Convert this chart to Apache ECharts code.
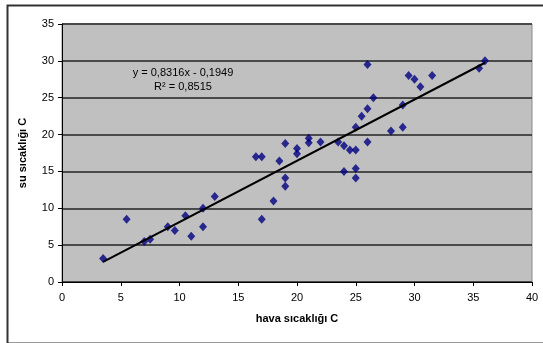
<!DOCTYPE html>
<html>
<head>
<meta charset="utf-8">
<script src="https://cdn.jsdelivr.net/npm/echarts@6/dist/echarts.min.js"></script>
<style>
html,body{margin:0;padding:0;background:#fff;}
#chart{width:543px;height:343px;}
</style>
</head>
<body>
<div id="chart"></div>
<script>
// air temperature (x) and water temperature (y)
const airTemp = [3.5, 5.5, 7, 7.5, 9, 9.6, 10.5, 11, 12, 12, 13, 16.5, 17, 17, 18, 18.5, 19, 19, 19, 20, 20, 21, 21, 22, 23.5, 24, 24, 24.5, 25, 25, 25, 25, 25.5, 26, 26, 26, 26.5, 28, 29, 29, 29.5, 30, 30.5, 31.5, 35.5, 36];
const waterTemp = [3.2, 8.5, 5.5, 5.8, 7.5, 7, 9, 6.2, 10, 7.5, 11.6, 17, 17, 8.5, 11, 16.4, 18.8, 14.1, 13, 18.1, 17.4, 19.5, 18.9, 19, 19, 18.5, 15, 17.9, 17.9, 21, 15.4, 14.1, 22.5, 23.5, 29.5, 19, 25, 20.5, 24, 21, 28, 27.5, 26.5, 28, 29, 30];
// linear trendline as shown on the chart: y = 0,8316x - 0,1949
const trendSlope = 0.8316;
const trendIntercept = -0.1949;
const trendX = [3.5, 36];
const xTicks = [0, 40, 5];
const yTicks = [0, 35, 5];
const equationText = 'y = 0,8316x - 0,1949';
const r2Text = 'R² = 0,8515';
const xName = 'hava sıcaklığı C';
const yName = 'su sıcaklığı C';

const points = airTemp.map((x, i) => [x, waterTemp[i]]);
const trend = trendX.map(x => [x, trendSlope * x + trendIntercept]);

const font = '"Liberation Sans", Arial, sans-serif';
const chart = echarts.init(document.getElementById('chart'));
chart.setOption({
  animation: false,
  backgroundColor: '#fff',
  grid: {
    left: 62, top: 24, width: 470, height: 258,
    show: true, backgroundColor: '#c0c0c0', borderColor: '#8a8a8a', borderWidth: 1
  },
  xAxis: {
    type: 'value', min: xTicks[0], max: xTicks[1], interval: xTicks[2],
    name: xName, nameLocation: 'middle', nameGap: 31,
    nameTextStyle: {fontFamily: font, fontSize: 11, fontWeight: 'bold', color: '#000'},
    axisLine: {show: true, lineStyle: {color: '#000', width: 1}},
    axisTick: {show: true, inside: false, length: 4, lineStyle: {color: '#000'}},
    axisLabel: {fontFamily: font, fontSize: 11, color: '#000', margin: 10},
    splitLine: {show: false}
  },
  yAxis: {
    type: 'value', min: yTicks[0], max: yTicks[1], interval: yTicks[2],
    name: yName, nameLocation: 'middle', nameGap: 34, nameRotate: 90,
    nameTextStyle: {fontFamily: font, fontSize: 11, fontWeight: 'bold', color: '#000'},
    axisLine: {show: true, lineStyle: {color: '#000', width: 1}},
    axisTick: {show: true, inside: false, length: 4, lineStyle: {color: '#000'}},
    axisLabel: {fontFamily: font, fontSize: 11, color: '#000', margin: 8},
    splitLine: {show: true, lineStyle: {color: '#4a4a4a', width: 2}}
  },
  series: [
    {
      type: 'scatter', data: points, symbol: 'diamond', symbolSize: [8, 9],
      itemStyle: {color: '#000080'}, z: 3
    },
    {
      type: 'line', data: trend, showSymbol: false, symbol: 'none',
      lineStyle: {color: '#000', width: 2}, z: 4
    }
  ],
  graphic: [
    {
      type: 'rect', left: 5, top: 3, z: -10, silent: true,
      shape: {width: 545, height: 338},
      style: {fill: 'none', stroke: '#333', lineWidth: 2}
    },
    {
      type: 'text', x: 183, y: 73, z: 10,
      style: {text: equationText, font: '11px ' + font, fill: '#000', align: 'center', verticalAlign: 'middle'}
    },
    {
      type: 'text', x: 183, y: 87, z: 10,
      style: {text: r2Text, font: '11px ' + font, fill: '#000', align: 'center', verticalAlign: 'middle'}
    }
  ]
});
</script>
</body>
</html>
